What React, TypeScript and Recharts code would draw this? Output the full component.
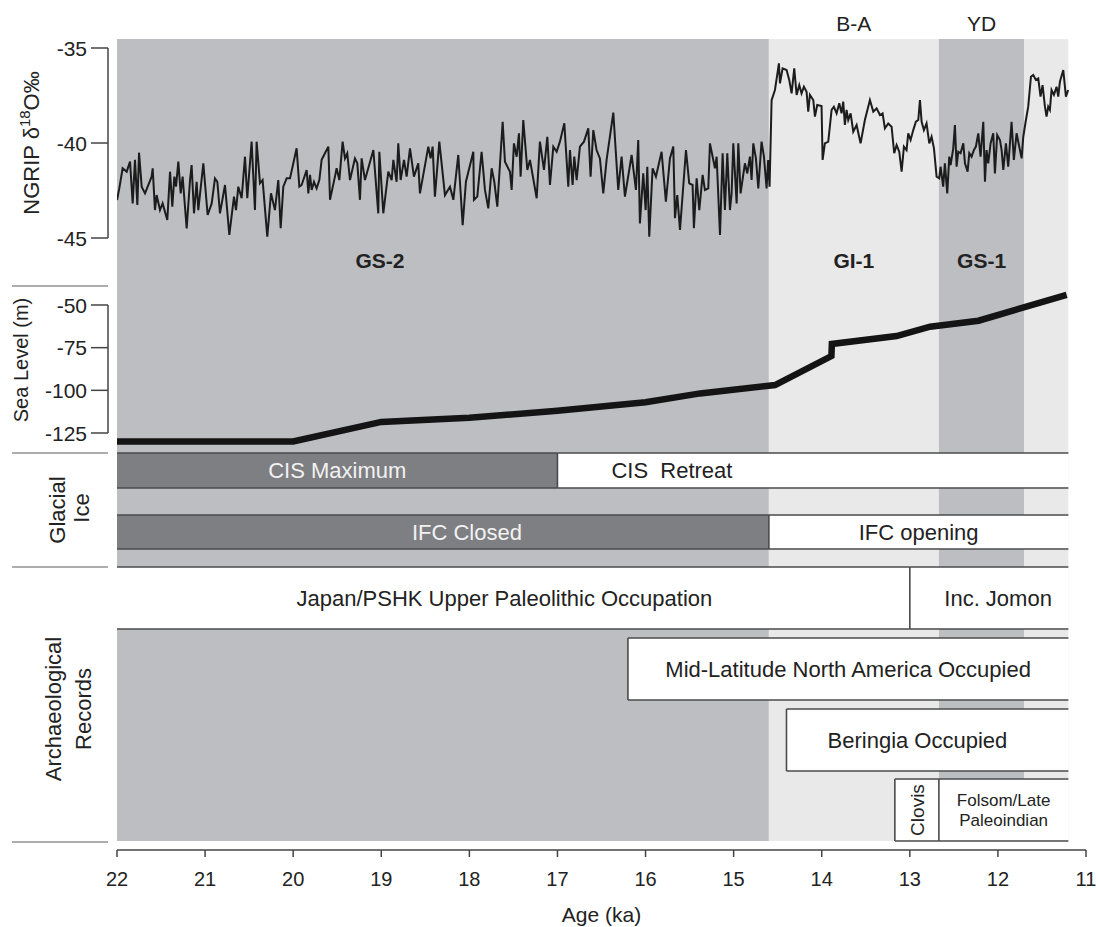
import React from 'react';
import { ComposedChart, Line, XAxis, YAxis, ReferenceArea, ReferenceLine } from 'recharts';

// ---------- data ----------

// NGRIP d18O record: [age ka, permil]
const ngrip: [number, number][] = [
  [22.0, -43.0], [21.974, -42.39], [21.936, -41.33], [21.89, -41.51], [21.852, -40.98], [21.822, -43.18], [21.796, -40.89],
  [21.769, -43.26], [21.75, -40.51], [21.72, -42.3], [21.682, -42.65], [21.607, -41.77], [21.595, -41.33], [21.569, -43.53],
  [21.55, -42.74], [21.512, -43.53], [21.482, -43.18], [21.429, -44.05], [21.398, -41.51], [21.372, -43.35], [21.349, -41.77],
  [21.33, -42.3], [21.304, -40.98], [21.277, -42.65], [21.255, -41.77], [21.209, -44.49], [21.171, -41.95], [21.153, -41.16],
  [21.126, -43.7], [21.096, -42.04], [21.077, -43.53], [21.02, -41.07], [20.971, -43.79], [20.925, -43.18], [20.888, -41.86],
  [20.861, -42.04], [20.831, -43.7], [20.774, -42.21], [20.725, -44.84], [20.672, -42.82], [20.649, -43.53], [20.623, -42.3],
  [20.585, -42.91], [20.547, -40.72], [20.521, -42.91], [20.472, -39.93], [20.434, -43.53], [20.415, -39.93], [20.377, -42.12],
  [20.347, -41.95], [20.294, -44.93], [20.252, -42.65], [20.207, -43.53], [20.169, -41.95], [20.142, -44.49], [20.112, -42.3],
  [20.074, -41.86], [20.036, -41.86], [19.961, -40.28], [19.93, -42.3], [19.904, -42.21], [19.847, -41.42], [19.828, -42.65],
  [19.809, -41.68], [19.79, -42.47], [19.764, -42.04], [19.734, -42.39], [19.703, -41.95], [19.677, -40.89], [19.639, -40.54],
  [19.601, -40.19], [19.582, -42.99], [19.526, -41.77], [19.507, -41.33], [19.476, -41.95], [19.439, -39.93], [19.412, -40.81],
  [19.386, -40.54], [19.355, -41.95], [19.299, -40.81], [19.272, -41.07], [19.242, -42.99], [19.223, -40.81], [19.185, -41.95],
  [19.09, -40.37], [19.034, -43.7], [19.022, -40.46], [18.977, -43.7], [18.92, -41.51], [18.882, -41.95], [18.863, -40.89],
  [18.826, -42.04], [18.807, -40.02], [18.78, -41.95], [18.742, -40.89], [18.712, -41.77], [18.674, -40.28], [18.629, -41.77],
  [18.58, -41.07], [18.561, -42.65], [18.466, -40.19], [18.44, -40.81], [18.417, -40.19], [18.391, -42.82], [18.341, -39.93],
  [18.277, -42.74], [18.22, -42.3], [18.182, -42.99], [18.126, -40.63], [18.076, -44.32], [18.039, -42.04], [17.955, -40.46],
  [17.948, -42.99], [17.91, -42.82], [17.861, -40.46], [17.823, -42.47], [17.785, -43.44], [17.747, -41.33], [17.717, -42.04],
  [17.683, -43.35], [17.622, -38.88], [17.596, -40.98], [17.539, -41.51], [17.52, -42.47], [17.494, -40.02], [17.463, -40.72],
  [17.437, -39.49], [17.418, -41.77], [17.388, -38.79], [17.342, -41.42], [17.312, -40.89], [17.236, -42.91], [17.199, -39.93],
  [17.153, -41.42], [17.115, -39.67], [17.085, -42.21], [17.047, -40.19], [17.009, -40.46], [16.972, -39.93], [16.922, -38.96],
  [16.877, -42.3], [16.858, -40.37], [16.828, -42.21], [16.809, -40.72], [16.782, -41.95], [16.745, -40.19], [16.699, -39.93],
  [16.65, -39.23], [16.624, -41.77], [16.593, -39.32], [16.556, -40.37], [16.518, -40.81], [16.48, -42.65], [16.442, -40.89],
  [16.366, -38.4], [16.31, -42.47], [16.272, -40.72], [16.234, -42.82], [16.158, -40.63], [16.109, -42.47], [16.083, -39.84],
  [16.064, -44.23], [16.026, -41.6], [15.999, -43.53], [15.98, -41.25], [15.958, -44.93], [15.92, -41.33], [15.882, -41.77],
  [15.818, -40.46], [15.769, -43.09], [15.723, -40.81], [15.685, -40.19], [15.666, -43.96], [15.64, -42.74], [15.609, -44.58],
  [15.541, -40.37], [15.504, -42.12], [15.466, -42.21], [15.451, -44.49], [15.42, -41.86], [15.39, -43.53], [15.352, -41.68],
  [15.326, -42.47], [15.288, -42.39], [15.269, -40.02], [15.212, -41.33], [15.193, -40.72], [15.155, -44.84], [15.125, -40.54],
  [15.099, -43.53], [15.072, -40.54], [15.042, -43.53], [15.023, -42.65], [15.004, -40.02], [14.966, -43.18], [14.947, -40.02],
  [14.921, -42.65], [14.872, -41.07], [14.845, -41.6], [14.815, -40.72], [14.796, -41.95], [14.777, -40.02], [14.747, -40.81],
  [14.72, -42.39], [14.683, -39.93], [14.656, -40.72], [14.626, -42.39], [14.608, -40.9], [14.592, -42.3], [14.569, -37.74],
  [14.531, -37.21], [14.486, -35.81], [14.474, -36.86], [14.444, -36.07], [14.399, -36.16], [14.369, -36.68], [14.342, -37.39],
  [14.312, -36.07], [14.285, -37.47], [14.255, -36.95], [14.229, -37.39], [14.202, -37.04], [14.172, -37.3], [14.153, -38.35],
  [14.134, -37.47], [14.096, -37.74], [14.077, -38.61], [14.051, -38.0], [14.002, -38.05], [13.99, -40.89], [13.964, -40.02],
  [13.926, -39.93], [13.888, -38.26], [13.862, -38.09], [13.831, -38.44], [13.801, -37.91], [13.775, -38.44], [13.756, -37.82],
  [13.737, -39.05], [13.718, -38.26], [13.699, -38.79], [13.672, -38.44], [13.642, -39.4], [13.604, -39.05], [13.559, -40.02],
  [13.51, -38.79], [13.453, -37.74], [13.415, -38.35], [13.377, -38.18], [13.339, -38.53], [13.309, -38.44], [13.283, -39.23],
  [13.245, -38.97], [13.207, -39.14], [13.177, -40.54], [13.15, -40.11], [13.12, -40.46], [13.093, -41.51], [13.067, -40.19],
  [13.037, -40.37], [13.018, -39.49], [12.991, -39.84], [12.961, -39.32], [12.931, -38.88], [12.904, -38.79], [12.885, -37.74],
  [12.866, -38.88], [12.84, -39.32], [12.81, -38.97], [12.779, -40.02], [12.753, -39.67], [12.726, -40.28], [12.696, -41.77],
  [12.666, -41.86], [12.651, -41.25], [12.621, -42.3], [12.602, -41.07], [12.575, -42.65], [12.552, -40.72], [12.537, -41.16],
  [12.507, -40.28], [12.488, -39.05], [12.469, -41.25], [12.45, -40.46], [12.424, -40.54], [12.393, -40.02], [12.374, -41.07],
  [12.344, -41.51], [12.325, -40.54], [12.299, -40.72], [12.272, -40.37], [12.25, -40.19], [12.223, -39.49], [12.197, -40.72],
  [12.166, -38.88], [12.147, -42.04], [12.129, -40.37], [12.11, -41.07], [12.083, -40.02], [12.053, -39.49], [12.034, -41.6],
  [12.008, -39.58], [11.977, -39.84], [11.958, -40.37], [11.939, -41.42], [11.909, -40.02], [11.883, -41.25], [11.845, -38.88],
  [11.819, -40.89], [11.788, -39.49], [11.758, -40.19], [11.731, -40.81], [11.712, -39.67], [11.682, -38.79], [11.656, -38.09],
  [11.625, -36.51], [11.599, -36.42], [11.569, -36.68], [11.542, -36.6], [11.516, -37.56], [11.493, -36.95], [11.466, -38.09],
  [11.448, -38.61], [11.429, -38.09], [11.41, -38.26], [11.391, -37.21], [11.364, -37.47], [11.334, -37.04], [11.315, -37.56],
  [11.296, -36.77], [11.258, -36.16], [11.228, -37.56], [11.202, -37.21],
];

// relative sea level (m)
const seaLevelAge = [22, 20, 19, 18, 17, 16, 15.38, 14.53, 13.89, 13.885, 13.15, 12.77, 12.22, 11.22];
const seaLevelM = [-130, -130, -118.5, -116, -112, -107, -101.8, -96.9, -79.9, -72.8, -68.2, -62.7, -59.2, -44];

const ageTicks = [22, 21, 20, 19, 18, 17, 16, 15, 14, 13, 12, 11];
const ngripTicks = [-45, -40, -35];
const seaLevelTicks = [-125, -100, -75, -50];

// Greenland stadials / interstadials
const climatePeriods = [
  { name: 'GS-2', from: 22, to: 14.6, kind: 'stadial', event: '' },
  { name: 'GI-1', from: 14.6, to: 12.67, kind: 'interstadial', event: 'B-A' },
  { name: 'GS-1', from: 12.67, to: 11.7, kind: 'stadial', event: 'YD' },
  { name: '', from: 11.7, to: 11.2, kind: 'interstadial', event: '' },
];

const glacialIce = [
  { name: 'CIS Maximum', row: 'cis', from: 22, to: 17, closed: true },
  { name: 'CIS  Retreat', row: 'cis', from: 17, to: 11.2, closed: false },
  { name: 'IFC Closed', row: 'ifc', from: 22, to: 14.6, closed: true },
  { name: 'IFC opening', row: 'ifc', from: 14.6, to: 11.2, closed: false },
];

const archaeology = [
  { name: 'Japan/PSHK Upper Paleolithic Occupation', row: 'japan', from: 22, to: 13, closed: false },
  { name: 'Inc. Jomon', row: 'japan', from: 13, to: 11.2, closed: false },
  { name: 'Mid-Latitude North America Occupied', row: 'midlat', from: 16.2, to: 11.2, closed: false },
  { name: 'Beringia Occupied', row: 'beringia', from: 14.4, to: 11.2, closed: false },
  { name: 'Clovis', row: 'clovis', from: 13.17, to: 12.67, closed: false },
  { name: 'Folsom/Late\nPaleoindian', row: 'clovis', from: 12.67, to: 11.2, closed: false },
];

// ---------- layout ----------
const W = 1098;
const H = 927;
const PLOT_LEFT = 117;
const PLOT_RIGHT = 1086;
const PLOT_TOP = 39;
const PLOT_BOTTOM = 850;
const SHADE_BOTTOM = 841;
const AGE_MAX = 22;

const FONT = '"Liberation Sans", Arial, sans-serif';
const INK = '#222';
const AXIS = '#444';
const EDGE = '#4a4a4a';
const SHADE_DARK = '#bcbec1';
const SHADE_LIGHT = '#e9e9ea';
const BAR_DARK = '#7e7f83';

const rowBand: Record<string, [number, number]> = {
  cis: [453, 488],
  ifc: [515, 549],
  japan: [567, 629],
  midlat: [638, 700],
  beringia: [709, 771],
  clovis: [779, 841],
};

const labelStyle: Record<string, { dx?: number; size?: number; rotate?: boolean }> = {
  'CIS  Retreat': { dx: -141 },
  'IFC Closed': { dx: 24 },
  'Japan/PSHK Upper Paleolithic Occupation': { dx: -9 },
  'Inc. Jomon': { dx: 9 },
  'Beringia Occupied': { dx: -10 },
  Clovis: { size: 19, rotate: true },
  'Folsom/Late\nPaleoindian': { size: 17 },
};
const periodDx: Record<string, number> = { 'GS-2': -63 };

// axis domains so the tick values land where the figure puts them
const fitDomain = (vTop: number, pTop: number, vBottom: number, pBottom: number): [number, number] => {
  const perPx = (vTop - vBottom) / (pBottom - pTop);
  return [vBottom - (PLOT_BOTTOM - pBottom) * perPx, vTop + (pTop - PLOT_TOP) * perPx];
};
const ngripDomain = fitDomain(-35, 48, -45, 238);
const seaDomain = fitDomain(-50, 305, -125, 433);

const ngripData = ngrip.map(([ka, d18o]) => ({ ka, d18o }));
const seaData = seaLevelAge.map((ka, i) => ({ ka, sl: seaLevelM[i] }));

// both left axes share one spine column just left of the plot
const renderYTick = (p: any) => (
  <g>
    <line x1={PLOT_LEFT - 26} x2={PLOT_LEFT - 9} y1={p.y} y2={p.y} stroke={AXIS} strokeWidth={1.5} />
    <text x={PLOT_LEFT - 30} y={p.y} dy="0.36em" textAnchor="end" fontSize={21} fill={INK}>
      {p.payload.value}
    </text>
  </g>
);

const spineShape = (p: any) => (
  <line x1={p.x1 - 9} x2={p.x2 - 9} y1={p.y1} y2={p.y2} stroke={AXIS} strokeWidth={1.5} />
);

type Period = (typeof climatePeriods)[number];
const periodShape = (period: Period) => (p: any) => {
  const cx = p.x + p.width / 2 + (periodDx[period.name] ?? 0);
  return (
    <g>
      <rect x={p.x} y={p.y} width={p.width} height={p.height}
        fill={period.kind === 'stadial' ? SHADE_DARK : SHADE_LIGHT} />
      {period.name && (
        <text x={cx} y={268} textAnchor="middle" fontSize={21} fontWeight="bold" fill={INK}>{period.name}</text>
      )}
      {period.event && (
        <text x={cx} y={31} textAnchor="middle" fontSize={21} fill={INK}>{period.event}</text>
      )}
    </g>
  );
};

type Segment = { name: string; row: string; from: number; to: number; closed: boolean };
const boxShape = (seg: Segment) => (p: any) => {
  const { x, y, width, height } = p;
  const st = labelStyle[seg.name] ?? {};
  const size = st.size ?? 22;
  const cx = x + width / 2 + (st.dx ?? 0);
  const cy = y + height / 2;
  const lines = seg.name.split('\n');
  const color = seg.closed ? '#f2f2f2' : INK;
  return (
    <g>
      <rect x={x} y={y} width={width} height={height} fill={seg.closed ? BAR_DARK : '#fff'} />
      <line x1={x} x2={x + width} y1={y} y2={y} stroke={EDGE} strokeWidth={1.6} />
      <line x1={x} x2={x + width} y1={y + height} y2={y + height} stroke={EDGE} strokeWidth={1.6} />
      {seg.from < AGE_MAX && <line x1={x} x2={x} y1={y} y2={y + height} stroke={EDGE} strokeWidth={1.6} />}
      {st.rotate ? (
        <text x={cx} y={cy} dy="0.36em" textAnchor="middle" fontSize={size} fill={color}
          transform={`rotate(-90 ${cx} ${cy})`}>{seg.name}</text>
      ) : (
        lines.map((line, i) => (
          <text key={i} x={cx} y={cy + (i - (lines.length - 1) / 2) * 20} dy="0.36em" textAnchor="middle"
            fontSize={size} fill={color} style={{ whiteSpace: 'pre' }}>{line}</text>
        ))
      )}
    </g>
  );
};

const separatorYs = [286, 453, 567, 842];

export default function App() {
  return (
    <div style={{ position: 'absolute', left: 0, top: 0, width: W, height: H, background: '#fff', fontFamily: FONT }}>
      <ComposedChart width={W} height={H}
        margin={{ top: PLOT_TOP, right: W - PLOT_RIGHT, bottom: 0, left: PLOT_LEFT - 2 }}>
        <XAxis type="number" dataKey="ka" domain={[11, 22]} reversed allowDataOverflow ticks={ageTicks} interval={0}
          height={H - PLOT_BOTTOM} tickSize={7} tickMargin={15}
          axisLine={{ stroke: AXIS, strokeWidth: 1.5 }} tickLine={{ stroke: AXIS, strokeWidth: 1.5 }}
          tick={{ fontSize: 20, fill: INK }}
          label={{ value: 'Age (ka)', position: 'insideBottom', offset: 5, fontSize: 21, fill: INK }} />
        <YAxis yAxisId="ng" type="number" domain={ngripDomain} allowDataOverflow ticks={ngripTicks} interval={0}
          width={1} tickSize={0} tickMargin={0} axisLine={false} tickLine={false} tick={renderYTick} />
        <YAxis yAxisId="sl" type="number" domain={seaDomain} allowDataOverflow ticks={seaLevelTicks} interval={0}
          width={1} tickSize={0} tickMargin={0} axisLine={false} tickLine={false} tick={renderYTick} />
        <YAxis yAxisId="rows" type="number" hide reversed domain={[PLOT_TOP, PLOT_BOTTOM]} allowDataOverflow />

        {climatePeriods.map((p) => (
          <ReferenceArea key={`p-${p.from}`} yAxisId="rows" x1={p.from} x2={p.to} y1={PLOT_TOP} y2={SHADE_BOTTOM}
            ifOverflow="visible" shape={periodShape(p)} />
        ))}
        {[...glacialIce, ...archaeology].map((s) => (
          <ReferenceArea key={`b-${s.name}`} yAxisId="rows" x1={s.from} x2={s.to}
            y1={rowBand[s.row][0]} y2={rowBand[s.row][1]} ifOverflow="visible" shape={boxShape(s)} />
        ))}

        <ReferenceLine yAxisId="ng" segment={[{ x: 22, y: -35 }, { x: 22, y: -45 }]} ifOverflow="visible" shape={spineShape} />
        <ReferenceLine yAxisId="sl" segment={[{ x: 22, y: -50 }, { x: 22, y: -125 }]} ifOverflow="visible" shape={spineShape} />

        <Line yAxisId="ng" data={ngripData} dataKey="d18o" type="linear" stroke="#1c1c1c" strokeWidth={2}
          dot={false} activeDot={false} isAnimationActive={false} />
        <Line yAxisId="sl" data={seaData} dataKey="sl" type="linear" stroke="#141414" strokeWidth={6.5}
          strokeLinejoin="miter" dot={false} activeDot={false} isAnimationActive={false} />
      </ComposedChart>

      <svg width={W} height={H} style={{ position: 'absolute', left: 0, top: 0, pointerEvents: 'none' }}>
        {separatorYs.map((y) => (
          <line key={y} x1={12} x2={108} y1={y} y2={y} stroke="#adadad" strokeWidth={2} />
        ))}
        <text x={39} y={143} textAnchor="middle" fontSize={22} fill={INK} transform="rotate(-90 39 143)">
          NGRIP δ<tspan fontSize={15} dy={-9}>18</tspan><tspan dy={9}>O‰</tspan>
        </text>
        <text x={28} y={360} textAnchor="middle" fontSize={20} fill={INK} transform="rotate(-90 28 360)">Sea Level (m)</text>
        <text x={65} y={510} textAnchor="middle" fontSize={22} fill={INK} transform="rotate(-90 65 510)">Glacial</text>
        <text x={89} y={508} textAnchor="middle" fontSize={22} fill={INK} transform="rotate(-90 89 508)">Ice</text>
        <text x={61} y={709} textAnchor="middle" fontSize={22} fill={INK} transform="rotate(-90 61 709)">Archaeological</text>
        <text x={91} y={709} textAnchor="middle" fontSize={22} fill={INK} transform="rotate(-90 91 709)">Records</text>
      </svg>
    </div>
  );
}
